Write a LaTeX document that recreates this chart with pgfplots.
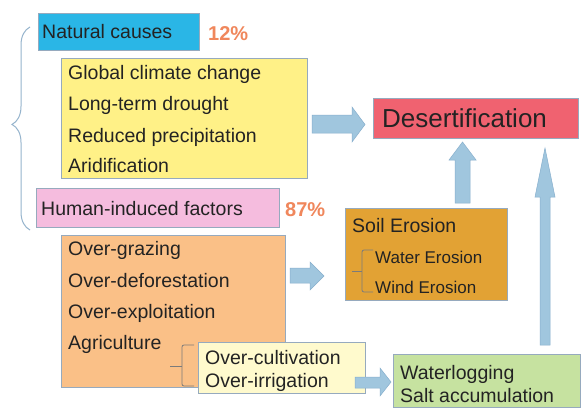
\documentclass[border=0pt]{standalone}
\usepackage{pgfplots}
\pgfplotsset{compat=1.18}
\usepackage{fontspec}
\setmainfont{Liberation Sans}
\usetikzlibrary{decorations.pathreplacing}
\definecolor{cyanbox}{RGB}{42,182,230}
\definecolor{yellowbox}{RGB}{255,241,135}
\definecolor{pinkbox}{RGB}{245,188,222}
\definecolor{redbox}{RGB}{240,98,112}
\definecolor{goldbox}{RGB}{226,162,52}
\definecolor{orangebox}{RGB}{250,192,135}
\definecolor{paleyellow}{RGB}{255,250,205}
\definecolor{greenbox}{RGB}{198,226,160}
\definecolor{arrowfill}{RGB}{160,198,222}
\definecolor{arrowdraw}{RGB}{135,175,205}
\definecolor{boxline}{RGB}{150,170,190}
\definecolor{txt}{RGB}{35,35,35}
\definecolor{pct}{RGB}{240,135,92}
\definecolor{bracecol}{RGB}{150,180,205}
\tikzset{t/.style={anchor=base west, inner sep=0pt, font=\fontsize{19.5bp}{23bp}\selectfont, text=txt}}
\begin{document}
\begin{tikzpicture}
\begin{axis}[width=588bp,height=409bp,scale only axis,
  xmin=0,xmax=588,ymin=0,ymax=409,y dir=reverse,
  axis lines=none,clip=false,no markers]
% background
\addplot[draw=none,fill=white] coordinates {(0,0)(588,0)(588,409)(0,409)} -- cycle;
% boxes
\addplot[draw=boxline,line width=0.6bp,fill=cyanbox] coordinates {(38,13)(199,13)(199,50)(38,50)} -- cycle;
\addplot[draw=boxline,line width=0.6bp,fill=yellowbox] coordinates {(61,58)(307,58)(307,178)(61,178)} -- cycle;
\addplot[draw=boxline,line width=0.6bp,fill=pinkbox] coordinates {(36,188)(279,188)(279,227)(36,227)} -- cycle;
\addplot[draw=boxline,line width=0.6bp,fill=redbox] coordinates {(373,98)(578,98)(578,138)(373,138)} -- cycle;
\addplot[draw=boxline,line width=0.6bp,fill=goldbox] coordinates {(345,208)(507,208)(507,300)(345,300)} -- cycle;
\addplot[draw=boxline,line width=0.6bp,fill=orangebox] coordinates {(61,235)(285,235)(285,387)(61,387)} -- cycle;
\addplot[draw=boxline,line width=0.6bp,fill=paleyellow] coordinates {(198,342)(365,342)(365,393)(198,393)} -- cycle;
\addplot[draw=boxline,line width=0.6bp,fill=greenbox] coordinates {(393,354)(580,354)(580,407)(393,407)} -- cycle;
% block arrows
\addplot[draw=arrowdraw,line width=0.5bp,fill=arrowfill] coordinates {(312,115)(352,115)(352,107)(365,124.5)(352,142)(352,133)(312,133)} -- cycle;
\addplot[draw=arrowdraw,line width=0.5bp,fill=arrowfill] coordinates {(455,203)(455,160)(449,160)(462.5,142)(476,160)(470,160)(470,203)} -- cycle;
\addplot[draw=arrowdraw,line width=0.5bp,fill=arrowfill] coordinates {(540,345)(540,197)(535,197)(545,148)(555,197)(550,197)(550,345)} -- cycle;
\addplot[draw=arrowdraw,line width=0.5bp,fill=arrowfill] coordinates {(290,268)(310,268)(310,262)(324,276)(310,290)(310,283)(290,283)} -- cycle;
\addplot[draw=arrowdraw,line width=0.5bp,fill=arrowfill] coordinates {(355,377)(380,377)(380,368)(391,382)(380,396)(380,388)(355,388)} -- cycle;
% braces
\draw[bracecol,line width=1bp,decorate,decoration={brace,amplitude=18bp,aspect=0.52}] (axis cs:30,230) -- (axis cs:30,27);
\draw[txt!60,line width=0.8bp,rounded corners=2bp] (axis cs:373,250) -- (axis cs:362,250) -- (axis cs:362,292) -- (axis cs:373,292);
\draw[txt!60,line width=0.8bp] (axis cs:352,271) -- (axis cs:362,271);
\draw[txt!60,line width=0.8bp,rounded corners=2bp] (axis cs:194,345) -- (axis cs:182,345) -- (axis cs:182,386) -- (axis cs:194,386);
\draw[txt!60,line width=0.8bp] (axis cs:170,366) -- (axis cs:182,366);
% texts
\node[t] at (axis cs:42,38) {Natural causes};
\node[t,text=pct,font=\fontsize{20bp}{24bp}\selectfont\bfseries] at (axis cs:208,40) {12\%};
\node[t] at (axis cs:68,79) {Global climate change};
\node[t] at (axis cs:68,110) {Long-term drought};
\node[t] at (axis cs:68,142) {Reduced precipitation};
\node[t] at (axis cs:68,172) {Aridification};
\node[t] at (axis cs:41,215) {Human-induced factors};
\node[t,text=pct,font=\fontsize{20bp}{24bp}\selectfont\bfseries] at (axis cs:285,216) {87\%};
\node[t,font=\fontsize{26bp}{30bp}\selectfont] at (axis cs:382,127) {Desertification};
\node[t] at (axis cs:352,232) {Soil Erosion};
\node[t,font=\fontsize{17bp}{20bp}\selectfont] at (axis cs:375,263) {Water Erosion};
\node[t,font=\fontsize{17bp}{20bp}\selectfont] at (axis cs:375,293) {Wind Erosion};
\node[t] at (axis cs:68,255) {Over-grazing};
\node[t] at (axis cs:68,287) {Over-deforestation};
\node[t] at (axis cs:68,318) {Over-exploitation};
\node[t] at (axis cs:68,349) {Agriculture};
\node[t] at (axis cs:205,364) {Over-cultivation};
\node[t] at (axis cs:205,387) {Over-irrigation};
\node[t] at (axis cs:400,379) {Waterlogging};
\node[t] at (axis cs:400,402) {Salt accumulation};
\end{axis}
\end{tikzpicture}
\end{document}
